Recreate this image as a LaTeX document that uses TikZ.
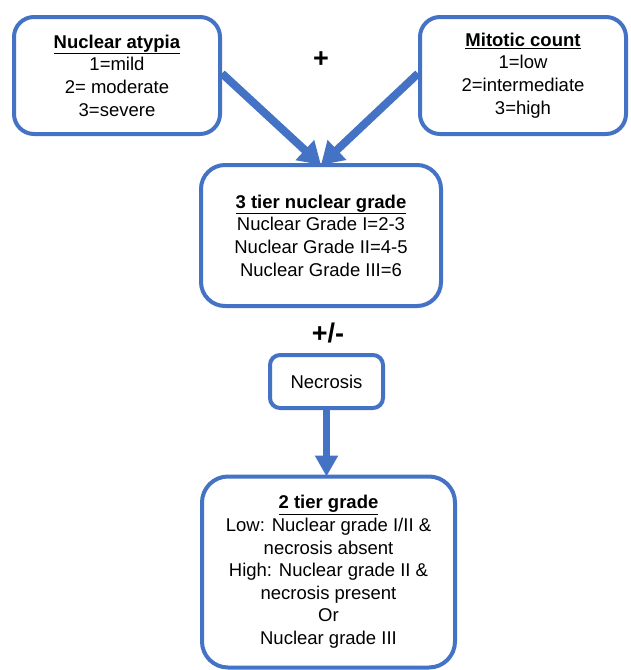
\documentclass[tikz,border=0pt]{standalone}
\usepackage{fontspec}
\setmainfont{Liberation Sans}
\usetikzlibrary{arrows.meta}
\definecolor{boxblue}{HTML}{4472C4}
\begin{document}
\begin{tikzpicture}[x=1pt,y=-1pt,
  box/.style={draw=boxblue,line width=4pt,fill=white,align=center,inner sep=0pt,
    font=\fontsize{18.5}{22.6}\selectfont},
  conn/.style={draw=boxblue,line width=8pt,-{Triangle[length=22pt,width=26pt]}},
  sign/.style={font=\fontsize{27}{28}\selectfont\bfseries,inner sep=0pt}]
\useasboundingbox (0,0) rectangle (630,670);
\node[box,rounded corners=20pt,minimum width=206pt,minimum height=117pt] (b1) at (117,75.5)
  {\underline{\textbf{Nuclear atypia}}\\1=mild\\2= moderate\\3=severe};
\node[box,rounded corners=20pt,minimum width=206pt,minimum height=117pt] (b2) at (523,75.5)
  {\underline{\textbf{Mitotic count}}\\1=low\\2=intermediate\\3=high};
\node[box,rounded corners=24pt,minimum width=240pt,minimum height=141pt] (b3) at (321,235.5)
  {\underline{\textbf{3 tier nuclear grade}}\\Nuclear Grade I=2-3\\Nuclear Grade II=4-5\\Nuclear Grade III=6};
\node[box,rounded corners=10pt,minimum width=113pt,minimum height=53pt] (nec) at (326.5,381.5)
  {Necrosis};
\node[box,rounded corners=26pt,minimum width=253pt,minimum height=191pt] (b4) at (328.5,572)
  {\underline{\textbf{2 tier grade}}\\Low: Nuclear grade I/II \&\\necrosis absent\\High: Nuclear grade II \&\\necrosis present\\Or\\Nuclear grade III};
\node[sign] (plus) at (321,60) {+};
\node[sign] (pm) at (328,333) {+/-};
\draw[conn] ([yshift=2pt]b1.east) -- ([yshift=-2pt]b3.north);
\draw[conn] ([yshift=2pt]b2.west) -- ([yshift=-2pt]b3.north);
\draw[conn,line width=7pt,-{Triangle[length=21pt,width=22pt]}] (nec.south) -- ([yshift=-2pt]nec.south |- b4.north);
\end{tikzpicture}
\end{document}
